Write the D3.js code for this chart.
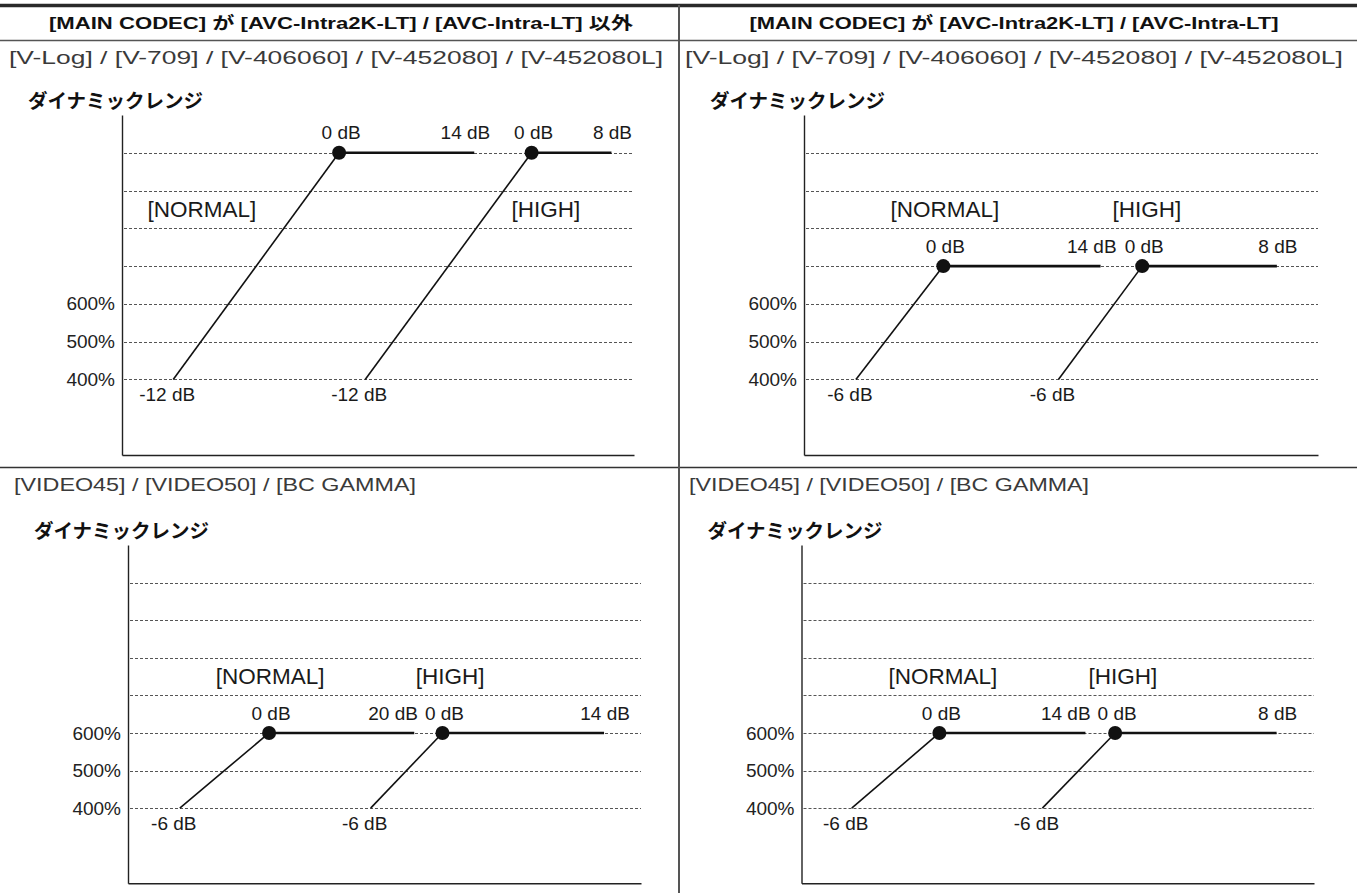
<!DOCTYPE html>
<html>
<head>
<meta charset="utf-8">
<script src="https://cdn.jsdelivr.net/npm/d3@7"></script>
<style>
html, body { margin: 0; padding: 0; background: #fff; }
svg { display: block; }
</style>
</head>
<body>
<svg id="chart" width="1357" height="893"></svg>
<script>
// ---------------- DATA ----------------
const columnHeaders = [
  "[MAIN CODEC] が [AVC-Intra2K-LT] / [AVC-Intra-LT] 以外",
  "[MAIN CODEC] が [AVC-Intra2K-LT] / [AVC-Intra-LT]"
];
const panelSubtitles = [
  "[V-Log] / [V-709] / [V-406060] / [V-452080] / [V-452080L]",
  "[V-Log] / [V-709] / [V-406060] / [V-452080] / [V-452080L]",
  "[VIDEO45] / [VIDEO50] / [BC GAMMA]",
  "[VIDEO45] / [VIDEO50] / [BC GAMMA]"
];
const chartTitle = "ダイナミックレンジ";
const modeNames = ["[NORMAL]", "[HIGH]"];

const yDomain = [200, 1100];                 // dynamic range (%)
const gridLevels = [400, 500, 600, 700, 800, 900, 1000];
const tickLevels = [400, 500, 600];
const tickLabels = ["400%", "500%", "600%"];

// gain (dB) at start, knee and end of each curve, per panel (TL, TR, BL, BR)
const normalGainDb = [[-12, 0, 14], [-6, 0, 14], [-6, 0, 20], [-6, 0, 14]];
const highGainDb   = [[-12, 0, 8],  [-6, 0, 8],  [-6, 0, 14], [-6, 0, 8]];
// dynamic range level (%) at the start and at the knee (0 dB)
const startLevel = [400, 400, 400, 400];
const kneeLevel  = [1000, 700, 600, 600];
// schematic horizontal position (0-100 across the illustration) of start, knee, end
const normalSpan = [[10.0, 42.4, 68.8], [10.1, 27.1, 57.7], [10.1, 27.5, 55.8], [9.8, 26.9, 55.4]];
const highSpan   = [[47.5, 80.0, 95.6], [49.5, 65.8, 92.0], [47.3, 61.3, 92.8], [47.0, 61.2, 92.7]];
// where the mode names sit (schematic position, level %)
const modeLabelSpan  = [[15.6, 82.8], [27.4, 66.7], [27.7, 62.8], [27.6, 62.7]];
const modeLabelLevel = [850, 850, 750, 750];

// ---------------- LAYOUT ----------------
const W = 1357, H = 893;
const svg = d3.select("#chart");
const latin = "'Liberation Sans', Arial, Helvetica, sans-serif";
const jp = "'Liberation Sans', 'Noto Sans CJK JP', sans-serif";
const jpTitle = "'Noto Sans CJK JP', sans-serif";

const frames = [
  { axisX: 122,   plotR: 634,  yTop: 115, yBot: 455,   subX: 9,   subLen: 654, subY: 63.5 },
  { axisX: 804,   plotR: 1318, yTop: 115, yBot: 455,   subX: 685, subLen: 658, subY: 63.5 },
  { axisX: 128,   plotR: 641,  yTop: 545, yBot: 883.3, subX: 14,  subLen: 402, subY: 491 },
  { axisX: 801.5, plotR: 1314, yTop: 545, yBot: 883.3, subX: 689, subLen: 400, subY: 491 }
];

// frame / table lines
svg.append("line").attr("x1", 0).attr("x2", W).attr("y1", 5.5).attr("y2", 5.5)
  .attr("stroke", "#2a2a2a").attr("stroke-width", 3.5);
svg.append("line").attr("x1", 0).attr("x2", W).attr("y1", 40.5).attr("y2", 40.5)
  .attr("stroke", "#555").attr("stroke-width", 1.5);
svg.append("line").attr("x1", 0).attr("x2", W).attr("y1", 467.5).attr("y2", 467.5)
  .attr("stroke", "#333").attr("stroke-width", 1.5);
svg.append("line").attr("x1", 679).attr("x2", 679).attr("y1", 5).attr("y2", H)
  .attr("stroke", "#555").attr("stroke-width", 2);

// column headers
const headerCenters = [341, 1014];
const headerLens = [584, 529];
columnHeaders.forEach((t, i) => {
  svg.append("text")
    .attr("x", headerCenters[i]).attr("y", 29)
    .attr("text-anchor", "middle")
    .attr("font-family", jp).attr("font-weight", "bold").attr("font-size", 17)
    .attr("fill", "#111")
    .attr("textLength", headerLens[i]).attr("lengthAdjust", "spacingAndGlyphs")
    .text(t);
});

frames.forEach((f, i) => {
  const g = svg.append("g");
  const x = d3.scaleLinear().domain([0, 100]).range([f.axisX, f.plotR]);
  const y = d3.scaleLinear().domain(yDomain).range([f.yBot, f.yTop]);

  // subtitle
  g.append("text")
    .attr("x", f.subX).attr("y", f.subY)
    .attr("font-family", latin).attr("font-size", 18.5)
    .attr("fill", "#3a3a3a")
    .attr("textLength", f.subLen).attr("lengthAdjust", "spacingAndGlyphs")
    .text(panelSubtitles[i]);

  // chart title
  g.append("text")
    .attr("x", f.axisX - 94).attr("y", f.yTop - 7)
    .attr("font-family", jpTitle).attr("font-weight", "bold").attr("font-size", 19.5)
    .attr("fill", "#111")
    .text(chartTitle);

  // dashed grid
  g.selectAll("line.grid").data(gridLevels).join("line")
    .attr("class", "grid")
    .attr("x1", f.axisX + 2).attr("x2", f.plotR)
    .attr("y1", d => Math.round(y(d)) + 0.5).attr("y2", d => Math.round(y(d)) + 0.5)
    .attr("stroke", "#555").attr("stroke-width", 1)
    .attr("stroke-dasharray", "3,2");

  // axes
  const yAxis = d3.axisLeft(y).tickValues(tickLevels).tickSize(0).tickPadding(7)
    .tickFormat((d, j) => tickLabels[j]);
  const ya = g.append("g").attr("transform", `translate(${f.axisX},0)`).call(yAxis);
  ya.select(".domain").attr("stroke", "#222").attr("stroke-width", 1.4);
  ya.selectAll("text").attr("font-family", latin).attr("font-size", 19).attr("fill", "#222");

  const xAxis = d3.axisBottom(x).tickValues([]).tickSizeOuter(0);
  const xa = g.append("g").attr("transform", `translate(0,${f.yBot})`).call(xAxis);
  xa.select(".domain").attr("stroke", "#222").attr("stroke-width", 1.4);

  const curves = [
    { db: normalGainDb[i], pos: normalSpan[i] },
    { db: highGainDb[i],   pos: highSpan[i] }
  ];

  const lbl = (xx, yy, t) => g.append("text")
    .attr("x", xx).attr("y", yy).attr("dy", "0.35em")
    .attr("text-anchor", "middle")
    .attr("font-family", latin).attr("font-size", 19).attr("fill", "#1a1a1a")
    .text(t);

  const fmt = d => `${d} dB`;
  const kneeLabels = [];
  curves.forEach(c => {
    const x0 = x(c.pos[0]), y0 = y(startLevel[i]);
    const x1 = x(c.pos[1]), y1 = y(kneeLevel[i]);
    const x2 = x(c.pos[2]);
    g.append("line").attr("x1", x0).attr("y1", y0).attr("x2", x1).attr("y2", y1)
      .attr("stroke", "#111").attr("stroke-width", 1.6);
    g.append("line").attr("x1", x1).attr("y1", y1).attr("x2", x2).attr("y2", y1)
      .attr("stroke", "#111").attr("stroke-width", 2.6);
    g.append("circle").attr("cx", x1).attr("cy", y1).attr("r", 7).attr("fill", "#111");
    lbl(x0 - 6, y0 + 15, fmt(c.db[0]));
    kneeLabels.push(lbl(x1 + 2, y1 - 20, fmt(c.db[1])));
  });

  // end labels (NORMAL end label is pushed left of the HIGH knee label)
  const highKneeLeft = kneeLabels[1].node().getBBox().x;
  const nEnd = lbl(0, y(kneeLevel[i]) - 20, fmt(curves[0].db[2]));
  const nW = nEnd.node().getComputedTextLength();
  const right = Math.min(x(curves[0].pos[2]) + 16, highKneeLeft - 7);
  nEnd.attr("x", right - nW / 2);
  lbl(x(curves[1].pos[2]) + 1, y(kneeLevel[i]) - 20, fmt(curves[1].db[2]));

  // mode names
  modeNames.forEach((m, k) => {
    g.append("text")
      .attr("x", x(modeLabelSpan[i][k])).attr("y", y(modeLabelLevel[i])).attr("dy", "0.35em")
      .attr("text-anchor", "middle")
      .attr("font-family", latin).attr("font-size", 22.5).attr("fill", "#1a1a1a")
      .text(m);
  });
});
</script>
</body>
</html>
